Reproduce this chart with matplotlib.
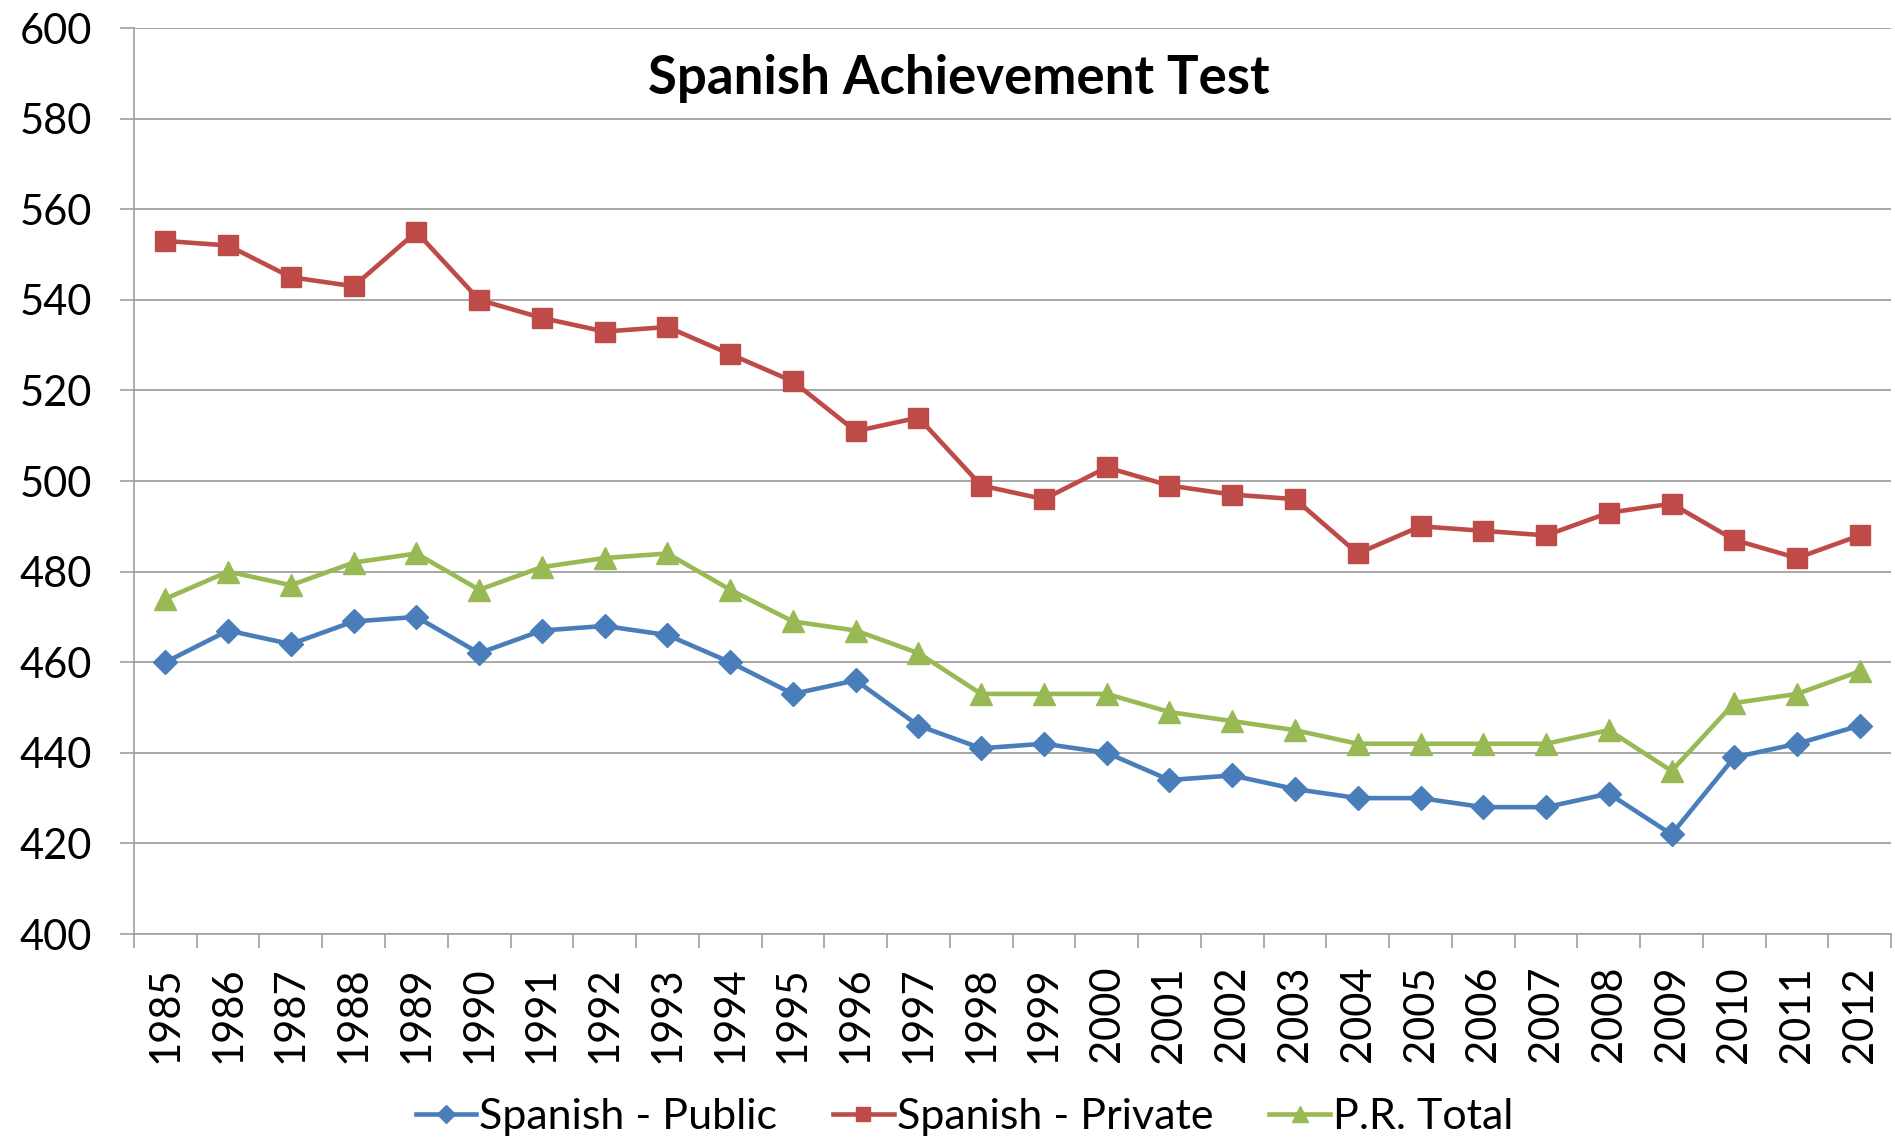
import matplotlib.pyplot as plt
from matplotlib.ticker import FixedLocator, NullFormatter

plt.rcParams['font.family'] = ['Lato', 'DejaVu Sans']

years = [str(y) for y in range(1985, 2013)]

public = [460, 467, 464, 469, 470, 462, 467, 468, 466, 460,
          453, 456, 446, 441, 442, 440, 434, 435, 432, 430,
          430, 428, 428, 431, 422, 439, 442, 446]
private = [553, 552, 545, 543, 555, 540, 536, 533, 534, 528,
           522, 511, 514, 499, 496, 503, 499, 497, 496, 484,
           490, 489, 488, 493, 495, 487, 483, 488]
total = [474, 480, 477, 482, 484, 476, 481, 483, 484, 476,
         469, 467, 462, 453, 453, 453, 449, 447, 445, 442,
         442, 442, 442, 445, 436, 451, 453, 458]

labels = ['Spanish - Public', 'Spanish - Private', 'P.R. Total']
colors = ['#4A7EBB', '#BE4B48', '#98B954']
markers = ['D', 's', '^']
msizes = [12.5, 14, 16]

fig = plt.figure(figsize=(18.95, 11.4), dpi=100)
ax = fig.add_axes([0.0707, 0.1807, 0.9273, 0.7947])

x = list(range(len(years)))
for vals, lab, c, m, ms in zip([public, private, total], labels, colors, markers, msizes):
    ax.plot(x, vals, color=c, lw=3.3, marker=m, markersize=ms, label=lab)

ax.set_ylim(400, 600)
ax.set_yticks(range(400, 601, 20))
ax.set_xlim(-0.5, len(years) - 0.5)

# category boundaries as major ticks, labels on minor ticks
ax.xaxis.set_major_locator(FixedLocator([i - 0.5 for i in range(len(years) + 1)]))
ax.xaxis.set_major_formatter(NullFormatter())
ax.xaxis.set_minor_locator(FixedLocator(x))
ax.set_xticklabels(years, minor=True, rotation=90)
ax.tick_params(axis='x', which='major', length=10, width=1.2, color='#A0A0A0')
ax.tick_params(axis='x', which='minor', length=0, pad=23, labelsize=30)
ax.tick_params(axis='y', length=10, width=1.2, color='#A0A0A0', pad=20, labelsize=30)

ax.grid(axis='y', color='#A0A0A0', lw=1.3)
ax.set_axisbelow(True)
for s in ['top', 'right']:
    ax.spines[s].set_visible(False)
for s in ['left', 'bottom']:
    ax.spines[s].set_color('#A0A0A0')
    ax.spines[s].set_linewidth(1.2)

fig.text(0.506, 0.9175, 'Spanish Achievement Test', ha='center', va='baseline',
         fontsize=38, fontweight='bold')

fig.legend(loc='center', bbox_to_anchor=(0.509, 0.02), ncol=3, frameon=False,
           fontsize=31, handlelength=1.4, handletextpad=0.08, columnspacing=1.3,
           markerscale=0.75, borderpad=0)

fig.savefig('out.png', dpi=100)
